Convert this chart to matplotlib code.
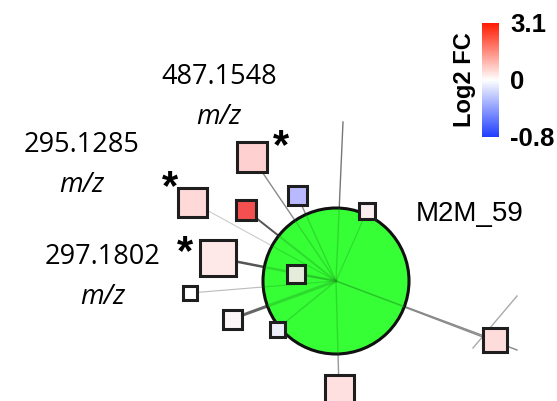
import numpy as np
import matplotlib
matplotlib.use("Agg")
import matplotlib.pyplot as plt
from matplotlib.patches import Circle, Rectangle
from matplotlib.colors import LinearSegmentedColormap, TwoSlopeNorm
from matplotlib.cm import ScalarMappable

# cluster hub (pixel space, y grows downward)
hub_name = "M2M_59"
hub_x, hub_y, hub_r = 336, 281, 73

# feature nodes around the hub
node_x = [252, 192, 246, 297, 367, 218, 296, 190, 232, 277, 339, 495]
node_y = [157, 202, 210, 195, 211, 258, 274, 293, 319, 329, 389, 340]
node_size = [30, 29, 20, 19, 16, 36, 18, 14, 19, 15, 29, 24]
node_fill = ["#FFD0D0", "#FFD8D8", "#F55050", "#B9B9FF", "#FAEEEE", "#FFE8E8",
             "#E6ECDC", "#FFFFFF", "#FCF6F6", "#EEEEFA", "#FFE0E0", "#FFDCDC"]

# significance marks: node index and offset of the star from the node centre
star_node = [0, 1, 5]
star_dx = [29, -22, -33]
star_dy = [-22, -26, -17]

# edge from hub to each node: width and grey level
edge_width = [1.0, 0.8, 1.4, 1.0, 0.8, 1.8, 1.0, 0.8, 2.2, 1.0, 1.0, 1.0]
edge_grey = ["#8a8a8a", "#cccccc", "#555555", "#8a8a8a", "#aaaaaa", "#555555",
             "#777777", "#bbbbbb", "#666666", "#999999", "#999999", "#888888"]

# edges leaving to nodes outside the view
extra_x0 = [336, 336, 473]
extra_y0 = [281, 281, 348]
extra_x1 = [343, 517, 517]
extra_y1 = [122, 350, 296]
extra_grey = ["#777777", "#888888", "#aaaaaa"]

# labelled features
mz_labels = ["487.1548", "295.1285", "297.1802"]
mz_label_x = [219, 82, 103]
mz_label_y = [77, 145, 257]

# Log2 FC colour scale
fc_min, fc_mid, fc_max = -0.8, 0, 3.1
fc_ticks = [fc_min, fc_mid, fc_max]
fc_ticklabels = ["-0.8", "0", "3.1"]

W, H = 557, 401
fig = plt.figure(figsize=(W / 100, H / 100), dpi=100)
ax = fig.add_axes([0, 0, 1, 1])
ax.set_xlim(0, W)
ax.set_ylim(H, 0)
ax.axis("off")

# edges under everything
for x, y, lw, c in zip(node_x, node_y, edge_width, edge_grey):
    ax.plot([hub_x, x], [hub_y, y], color=c, lw=lw, zorder=1, solid_capstyle="butt")
for x0, y0, x1, y1, c in zip(extra_x0, extra_y0, extra_x1, extra_y1, extra_grey):
    ax.plot([x0, x1], [y0, y1], color=c, lw=1.0, zorder=1)

hub = Circle((hub_x, hub_y), hub_r, facecolor="#36FF36", edgecolor="#111111",
             lw=2.2, zorder=2)
ax.add_patch(hub)

# edges showing through the hub
for x, y, lw in zip(node_x, node_y, edge_width):
    ln, = ax.plot([hub_x, x], [hub_y, y], color="#1d9a1d", lw=lw, alpha=0.35, zorder=3)
    ln.set_clip_path(hub)
for x0, y0, x1, y1 in zip(extra_x0[:2], extra_y0[:2], extra_x1[:2], extra_y1[:2]):
    ln, = ax.plot([x0, x1], [y0, y1], color="#1d9a1d", lw=1.0, alpha=0.35, zorder=3)
    ln.set_clip_path(hub)

for x, y, s, c in zip(node_x, node_y, node_size, node_fill):
    ax.add_patch(Rectangle((x - s / 2, y - s / 2), s, s, facecolor=c,
                           edgecolor="#1e1e1e", lw=2.2, zorder=4))

# the asterisk ink sits about 0.55 em above its baseline
star_pt = 30
star_lift = 0.55 * star_pt * 100 / 72
for i, dx, dy in zip(star_node, star_dx, star_dy):
    ax.text(node_x[i] + dx, node_y[i] + dy + star_lift, "*", fontsize=star_pt,
            fontweight="bold", family="Liberation Sans",
            ha="center", va="baseline", zorder=5)

for lab, x, y in zip(mz_labels, mz_label_x, mz_label_y):
    ax.text(x, y, lab, fontsize=19.5, family="Open Sans", ha="center", va="center")
    ax.text(x, y + 40, "m/z", fontsize=19.5, family="Open Sans", style="italic",
            ha="center", va="center")

ax.text(416, 214, hub_name, fontsize=20, family="Liberation Sans",
        ha="left", va="center")

# colour bar
cmap = LinearSegmentedColormap.from_list("fc", ["#1f3dff", "#ffffff", "#ff1a00"])
norm = TwoSlopeNorm(vmin=fc_min, vcenter=fc_mid, vmax=fc_max)
cax = fig.add_axes([482 / W, 1 - 137 / H, 17 / W, 114 / H])
cb = fig.colorbar(ScalarMappable(norm=norm, cmap=cmap), cax=cax, ticks=fc_ticks)
cb.outline.set_visible(False)
cb.ax.tick_params(length=0, pad=8)
cb.ax.set_yticklabels(fc_ticklabels, fontsize=18.5, fontweight="bold",
                      family="Liberation Sans")
cax.text(-1.0, 0.5, "Log2 FC", rotation=90, fontsize=17, fontweight="bold",
         family="Liberation Sans", transform=cax.transAxes, ha="center", va="center")

fig.savefig("out.png", dpi=100)
